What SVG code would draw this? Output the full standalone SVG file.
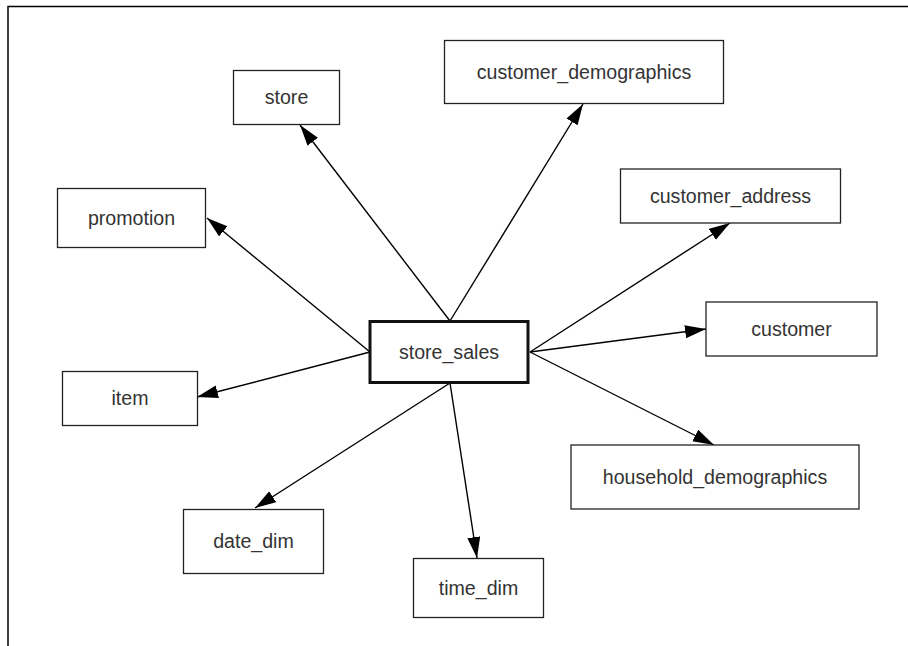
<svg xmlns="http://www.w3.org/2000/svg" width="908" height="646" viewBox="0 0 908 646">
<style>
.box{fill:#fff;stroke:#222;stroke-width:1.3}
.main{fill:#fff;stroke:#111;stroke-width:3}
.lbl{font-family:"Liberation Sans",Arial,sans-serif;font-size:19.6px;fill:#333;text-anchor:middle}
.edge{stroke:#000;stroke-width:1.4;fill:none;marker-end:url(#ah)}
.frame{stroke:#000;stroke-width:1.5;fill:none}
</style>
<defs>
<marker id="ah" markerUnits="userSpaceOnUse" markerWidth="22" markerHeight="14" refX="21" refY="6.5" orient="auto">
<path d="M0,0 L21,6.5 L0,13 z" fill="#000"/>
</marker>
</defs>
<rect width="908" height="646" fill="#fff"/>
<path class="frame" d="M8,646 L8,6.5 L908,6.5"/>
<g id="connectors">
<line class="edge" x1="450" y1="321" x2="300" y2="125"/>
<line class="edge" x1="450" y1="321" x2="583" y2="104"/>
<line class="edge" x1="370" y1="352" x2="207" y2="218"/>
<line class="edge" x1="530" y1="352" x2="730" y2="223"/>
<line class="edge" x1="530" y1="352" x2="706" y2="329"/>
<line class="edge" x1="370" y1="352" x2="197" y2="397"/>
<line class="edge" x1="530" y1="352" x2="714" y2="445"/>
<line class="edge" x1="450" y1="383" x2="255" y2="508"/>
<line class="edge" x1="450" y1="383" x2="477" y2="558"/>
</g>
<g id="store_sales"><rect class="main" x="370" y="321.5" width="158" height="61"/><text class="lbl" x="449" y="359">store_sales</text></g>
<g id="store"><rect class="box" x="233.5" y="70.5" width="106" height="54"/><text class="lbl" x="286.5" y="104">store</text></g>
<g id="customer_demographics"><rect class="box" x="444.5" y="40.5" width="279" height="63"/><text class="lbl" x="584" y="79">customer_demographics</text></g>
<g id="promotion"><rect class="box" x="57.5" y="188.5" width="148" height="59"/><text class="lbl" x="131.5" y="225">promotion</text></g>
<g id="customer_address"><rect class="box" x="620.5" y="169" width="220" height="54"/><text class="lbl" x="730.5" y="203">customer_address</text></g>
<g id="customer"><rect class="box" x="706" y="302" width="171" height="54"/><text class="lbl" x="791.5" y="336">customer</text></g>
<g id="item"><rect class="box" x="62.5" y="371.5" width="135" height="54"/><text class="lbl" x="130" y="405">item</text></g>
<g id="household_demographics"><rect class="box" x="571" y="445" width="288" height="64"/><text class="lbl" x="715" y="484">household_demographics</text></g>
<g id="date_dim"><rect class="box" x="183.5" y="509.5" width="140" height="64"/><text class="lbl" x="253.5" y="548">date_dim</text></g>
<g id="time_dim"><rect class="box" x="413.5" y="558.5" width="130" height="59"/><text class="lbl" x="478.5" y="595">time_dim</text></g>
</svg>
